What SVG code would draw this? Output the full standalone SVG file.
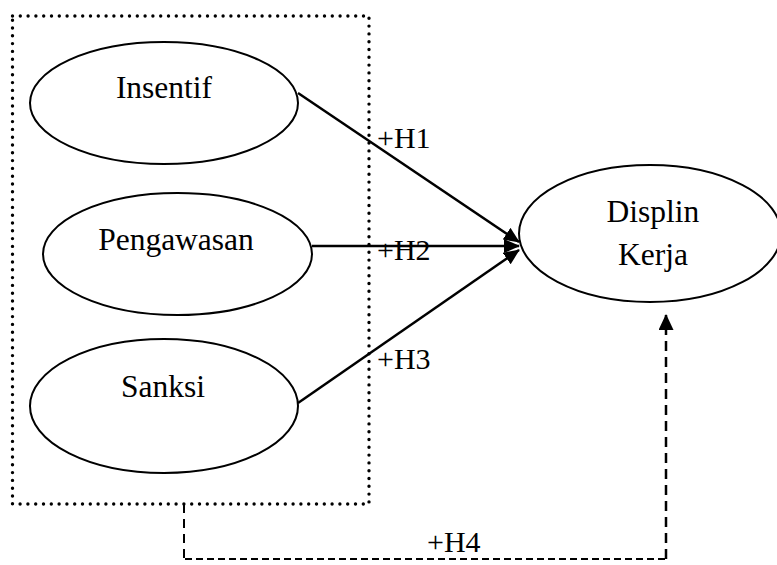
<svg xmlns="http://www.w3.org/2000/svg" width="777" height="565" viewBox="0 0 777 565">
<style>
.node ellipse{fill:#fff;stroke:#000;stroke-width:2}
.lbl{font-family:"Liberation Serif","Times New Roman",serif;font-size:31.5px;fill:#000;text-anchor:middle}
.hl{font-family:"Liberation Serif","Times New Roman",serif;font-size:30px;fill:#000}
.arr{stroke:#000;stroke-width:2.5;fill:none;marker-end:url(#ah)}
</style>
<defs>
<marker id="ah" viewBox="0 0 16 14" refX="15" refY="7" markerWidth="16" markerHeight="14" markerUnits="userSpaceOnUse" orient="auto">
<path d="M0,0 L16,7 L0,14 z" fill="#000"/>
</marker>
<marker id="ah2" viewBox="0 0 16 15" refX="15" refY="7.5" markerWidth="16" markerHeight="15" markerUnits="userSpaceOnUse" orient="auto">
<path d="M0,0 L16,7.5 L0,15 z" fill="#000"/>
</marker>
</defs>
<rect id="group-box" x="12.5" y="16" width="356.5" height="488" fill="none" stroke="#000" stroke-width="3.4" stroke-linecap="round" stroke-dasharray="0 7.8"/>
<g id="insentif" class="node">
<ellipse cx="164" cy="103" rx="134" ry="61"/>
<text class="lbl" x="164" y="98">Insentif</text>
</g>
<g id="pengawasan" class="node">
<ellipse cx="177.5" cy="254" rx="134.5" ry="61"/>
<text class="lbl" x="176" y="250">Pengawasan</text>
</g>
<g id="sanksi" class="node">
<ellipse cx="164" cy="406" rx="134" ry="67"/>
<text class="lbl" x="163" y="397">Sanksi</text>
</g>
<g id="disiplin" class="node">
<ellipse cx="650" cy="233.5" rx="131" ry="68.5"/>
<text class="lbl" x="653" y="222">Displin</text>
<text class="lbl" x="653" y="265">Kerja</text>
</g>
<g id="connectors">
<line class="arr" x1="298" y1="93" x2="519" y2="242"/>
<line class="arr" x1="312" y1="246" x2="519" y2="246"/>
<line class="arr" x1="298" y1="403" x2="519" y2="250"/>
<path d="M184,504 L184,559" fill="none" stroke="#000" stroke-width="2" stroke-dasharray="9 6"/>
<path d="M185,559 L666,559" fill="none" stroke="#000" stroke-width="2" stroke-dasharray="7 4"/>
<path d="M666,559 L666,315" fill="none" stroke="#000" stroke-width="2.5" stroke-dasharray="10 6" marker-end="url(#ah2)"/>
<text class="hl" x="377" y="148">+H1</text>
<text class="hl" x="377" y="260">+H2</text>
<text class="hl" x="377" y="369">+H3</text>
<text class="hl" x="427" y="552">+H4</text>
</g>
</svg>
